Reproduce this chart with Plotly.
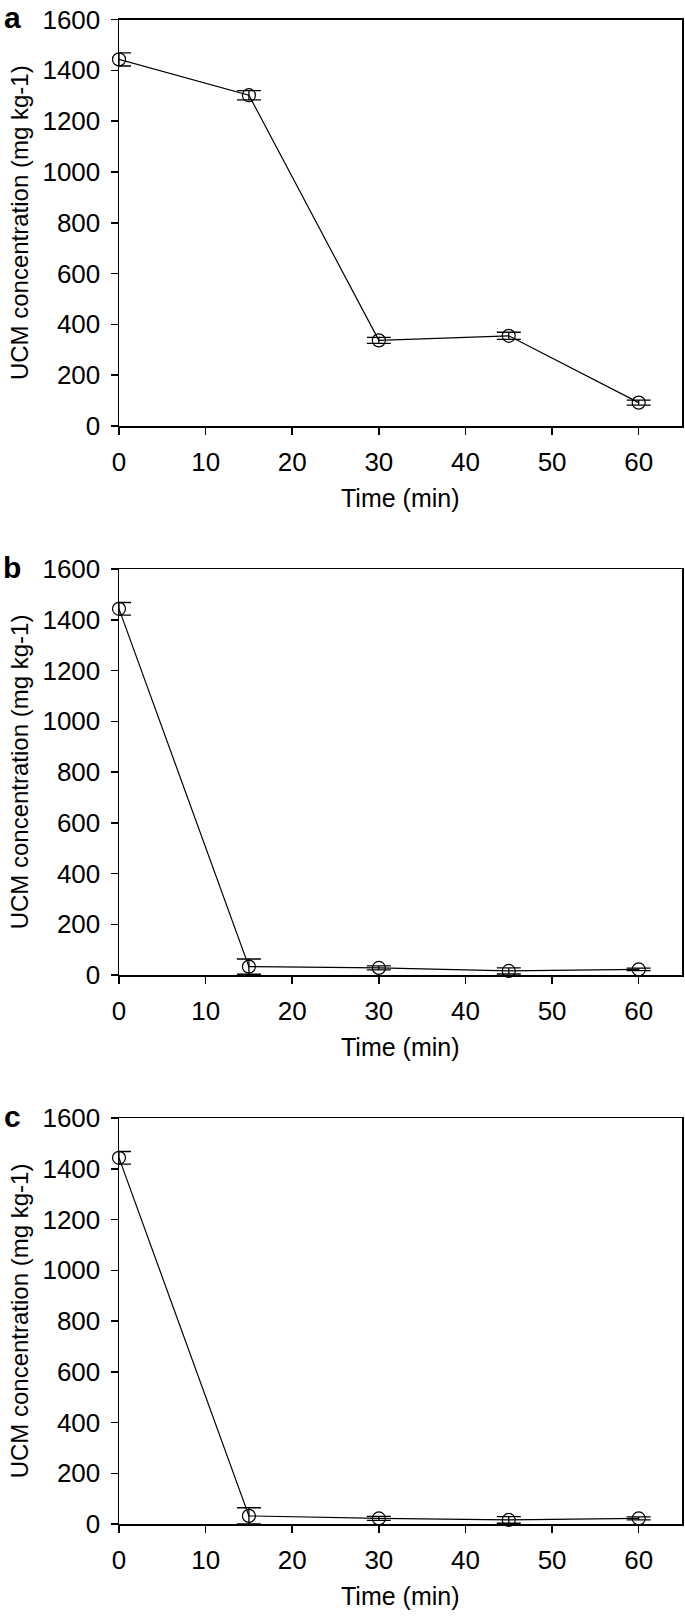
import plotly.graph_objects as go

# ---- data ----
time_min = [0, 15, 30, 45, 60]
ucm_a = [1443, 1302, 337, 355, 92]
err_a = [26, 18, 12, 14, 10]
ucm_b = [1443, 33, 28, 16, 22]
err_b = [25, 30, 8, 12, 5]
ucm_c = [1443, 32, 22, 16, 22]
err_c = [25, 32, 8, 13, 6]
panel_labels = ["a", "b", "c"]
x_tick_vals = [0, 10, 20, 30, 40, 50, 60]
y_tick_vals = [0, 200, 400, 600, 800, 1000, 1200, 1400, 1600]
x_title = "Time (min)"
y_title = "UCM concentration (mg kg-1)"

# ---- layout geometry (pixels) ----
W, H = 685, 1617
ML, MR, MT, MB = 119, 1, 19, 93
PW = W - ML - MR
PH = H - MT - MB
panel_px = [(19.5, 426), (569, 975), (1118, 1524)]
FONT = "Liberation Sans, Arial, sans-serif"


def px_x(px):
    return (px - ML) / PW


def px_y(py):
    return 1 - (py - MT) / PH


series = [(ucm_a, err_a), (ucm_b, err_b), (ucm_c, err_c)]

fig = go.Figure()
annotations = []
for i, ((vals, errs), (pt, pb)) in enumerate(zip(series, panel_px)):
    n = i + 1
    xa = "x" if n == 1 else f"x{n}"
    ya = "y" if n == 1 else f"y{n}"
    fig.add_trace(go.Scatter(
        x=time_min, y=vals, xaxis=xa, yaxis=ya, mode="lines+markers",
        line=dict(color="black", width=1.2),
        marker=dict(symbol="circle-open", size=13, color="black",
                    line=dict(width=1.2, color="black")),
        error_y=dict(type="data", array=errs, visible=True, color="black",
                     thickness=1.3, width=12),
        cliponaxis=False, showlegend=False, hoverinfo="skip",
    ))
    axis_common = dict(showline=True, linecolor="black", linewidth=1.5,
                       mirror=True, ticks="outside", ticklen=7, tickwidth=1.5,
                       tickcolor="black", showgrid=False, zeroline=False,
                       tickfont=dict(family=FONT, size=26, color="black"))
    fig.update_layout(**{
        ("xaxis" if n == 1 else f"xaxis{n}"): dict(
            range=[0, 65], tickvals=x_tick_vals, anchor=ya,
            domain=[0, 1], ticklabelstandoff=5, **axis_common),
        ("yaxis" if n == 1 else f"yaxis{n}"): dict(
            range=[0, 1600], tickvals=y_tick_vals, anchor=xa,
            domain=[px_y(pb), px_y(pt)], ticklabelstandoff=5, **axis_common),
    })
    # x title
    annotations.append(dict(
        text=x_title, xref="paper", yref="paper", x=px_x(402), y=px_y(pb + 72),
        showarrow=False, xanchor="center", yanchor="middle",
        font=dict(family=FONT, size=25, color="black")))
    # y title
    annotations.append(dict(
        text=y_title, xref="paper", yref="paper", x=px_x(19), y=px_y((pt + pb) / 2),
        showarrow=False, xanchor="center", yanchor="middle", textangle=-90,
        font=dict(family=FONT, size=24, color="black")))
    # panel letter
    annotations.append(dict(
        text=f"<b>{panel_labels[i]}</b>", xref="paper", yref="paper",
        x=px_x(12), y=px_y(pt - 2), showarrow=False,
        xanchor="center", yanchor="middle",
        font=dict(family=FONT, size=30, color="black")))

fig.update_layout(
    width=W, height=H,
    margin=dict(l=ML, r=MR, t=MT, b=MB),
    paper_bgcolor="white", plot_bgcolor="white",
    annotations=annotations,
    font=dict(family=FONT, color="black"),
    hovermode=False,
)

# remove the default 8px page margin so the figure fills the window exactly
fig.write_html("out.html", config={"displayModeBar": False, "staticPlot": True},
               post_script="document.body.style.margin='0px';")
